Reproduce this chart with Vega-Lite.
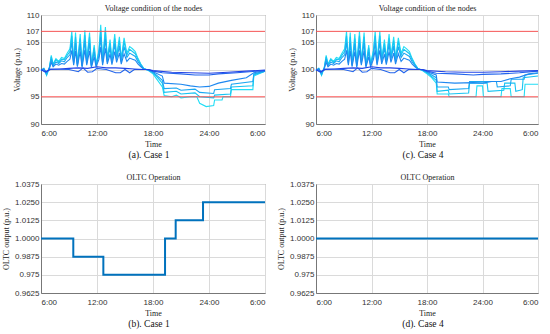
{
"$schema": "https://vega.github.io/schema/vega-lite/v6.json",
"padding": {"left": 2, "top": 3, "right": 5, "bottom": 5},
"config": {
 "view": {"stroke": "#777777", "strokeWidth": 1},
 "axis": {"labelFont": "Liberation Sans", "labelFontSize": 8, "labelColor": "#333333", "titleFont": "Liberation Serif", "titleFontSize": 8, "titleFontWeight": "normal", "titleColor": "#222222", "gridColor": "#dadada", "domainColor": "#777777", "ticks": false, "labelOverlap": false, "labelBound": false},
 "title": {"font": "Liberation Serif", "fontSize": 9.5, "fontWeight": "normal", "color": "#111111"}
},
"datasets": {
 "volt": [
{"c":1,"n":"a","t":6,"v":99.8},{"c":1,"n":"a","t":6.3,"v":100.2},{"c":1,"n":"a","t":6.6,"v":98.9},{"c":1,"n":"a","t":6.9,"v":100.4},{"c":1,"n":"a","t":7.1,"v":102.6},{"c":1,"n":"a","t":7.3,"v":101.0},{"c":1,"n":"a","t":7.6,"v":102.0},{"c":1,"n":"a","t":7.9,"v":101.5},{"c":1,"n":"a","t":8.2,"v":102.2},{"c":1,"n":"a","t":8.5,"v":102.0},{"c":1,"n":"a","t":8.8,"v":103.0},{"c":1,"n":"a","t":9.1,"v":103.8},{"c":1,"n":"a","t":9.3,"v":107.0},{"c":1,"n":"a","t":9.5,"v":101.5},{"c":1,"n":"a","t":9.7,"v":106.8},{"c":1,"n":"a","t":9.9,"v":101.0},{"c":1,"n":"a","t":10.2,"v":106.5},{"c":1,"n":"a","t":10.4,"v":100.8},{"c":1,"n":"a","t":10.7,"v":107.2},{"c":1,"n":"a","t":10.9,"v":101.5},{"c":1,"n":"a","t":11.2,"v":106.8},{"c":1,"n":"a","t":11.4,"v":100.8},{"c":1,"n":"a","t":11.7,"v":104.5},{"c":1,"n":"a","t":11.9,"v":101.0},{"c":1,"n":"a","t":12.2,"v":103.5},{"c":1,"n":"a","t":12.4,"v":108.2},{"c":1,"n":"a","t":12.6,"v":101.5},{"c":1,"n":"a","t":12.9,"v":107.8},{"c":1,"n":"a","t":13.1,"v":102.0},{"c":1,"n":"a","t":13.4,"v":105.5},{"c":1,"n":"a","t":13.6,"v":101.8},{"c":1,"n":"a","t":13.9,"v":106.5},{"c":1,"n":"a","t":14.1,"v":102.5},{"c":1,"n":"a","t":14.4,"v":106.0},{"c":1,"n":"a","t":14.6,"v":102.0},{"c":1,"n":"a","t":14.9,"v":105.8},{"c":1,"n":"a","t":15.2,"v":103.0},{"c":1,"n":"a","t":15.5,"v":104.2},{"c":1,"n":"a","t":15.8,"v":103.8},{"c":1,"n":"a","t":16.1,"v":103.3},{"c":1,"n":"a","t":16.4,"v":102.0},{"c":1,"n":"a","t":16.7,"v":101.0},{"c":1,"n":"a","t":17.0,"v":100.2},
{"c":1,"n":"a","t":17.5,"v":99.8},{"c":1,"n":"a","t":18,"v":99.2},{"c":1,"n":"a","t":18.5,"v":98.0},{"c":1,"n":"a","t":19,"v":96.8},{"c":1,"n":"a","t":19.2,"v":95.2},{"c":1,"n":"a","t":20,"v":95.0},{"c":1,"n":"a","t":20.5,"v":95.3},{"c":1,"n":"a","t":21,"v":94.8},{"c":1,"n":"a","t":22,"v":95.0},{"c":1,"n":"a","t":22.7,"v":95.0},{"c":1,"n":"a","t":23,"v":93.8},{"c":1,"n":"a","t":23.7,"v":93.2},{"c":1,"n":"a","t":24.5,"v":93.4},{"c":1,"n":"a","t":24.6,"v":94.4},{"c":1,"n":"a","t":25.4,"v":94.4},{"c":1,"n":"a","t":25.5,"v":95.0},{"c":1,"n":"a","t":26.3,"v":95.0},{"c":1,"n":"a","t":26.4,"v":96.3},{"c":1,"n":"a","t":28.7,"v":96.3},{"c":1,"n":"a","t":28.8,"v":98.8},{"c":1,"n":"a","t":30,"v":99.7},

{"c":1,"n":"b","t":6,"v":99.8},{"c":1,"n":"b","t":6.3,"v":100.2},{"c":1,"n":"b","t":6.6,"v":99.0},{"c":1,"n":"b","t":6.9,"v":100.4},{"c":1,"n":"b","t":7.1,"v":102.3},{"c":1,"n":"b","t":7.3,"v":100.9},{"c":1,"n":"b","t":7.6,"v":101.8},{"c":1,"n":"b","t":7.9,"v":101.3},{"c":1,"n":"b","t":8.2,"v":101.9},{"c":1,"n":"b","t":8.5,"v":101.8},{"c":1,"n":"b","t":8.8,"v":102.6},{"c":1,"n":"b","t":9.1,"v":103.3},{"c":1,"n":"b","t":9.3,"v":106.2},{"c":1,"n":"b","t":9.5,"v":101.3},{"c":1,"n":"b","t":9.7,"v":106.0},{"c":1,"n":"b","t":9.9,"v":100.9},{"c":1,"n":"b","t":10.2,"v":105.7},{"c":1,"n":"b","t":10.4,"v":100.7},{"c":1,"n":"b","t":10.7,"v":106.3},{"c":1,"n":"b","t":10.9,"v":101.3},{"c":1,"n":"b","t":11.2,"v":106.0},{"c":1,"n":"b","t":11.4,"v":100.7},{"c":1,"n":"b","t":11.7,"v":104.0},{"c":1,"n":"b","t":11.9,"v":100.9},{"c":1,"n":"b","t":12.2,"v":103.1},{"c":1,"n":"b","t":12.4,"v":107.2},{"c":1,"n":"b","t":12.6,"v":101.3},{"c":1,"n":"b","t":12.9,"v":106.9},{"c":1,"n":"b","t":13.1,"v":101.8},{"c":1,"n":"b","t":13.4,"v":104.8},{"c":1,"n":"b","t":13.6,"v":101.6},{"c":1,"n":"b","t":13.9,"v":105.7},{"c":1,"n":"b","t":14.1,"v":102.2},{"c":1,"n":"b","t":14.4,"v":105.3},{"c":1,"n":"b","t":14.6,"v":101.8},{"c":1,"n":"b","t":14.9,"v":105.1},{"c":1,"n":"b","t":15.2,"v":102.6},{"c":1,"n":"b","t":15.5,"v":103.7},{"c":1,"n":"b","t":15.8,"v":103.3},{"c":1,"n":"b","t":16.1,"v":102.9},{"c":1,"n":"b","t":16.4,"v":101.8},{"c":1,"n":"b","t":16.7,"v":100.9},{"c":1,"n":"b","t":17.0,"v":100.2},
{"c":1,"n":"b","t":17.5,"v":99.9},{"c":1,"n":"b","t":18,"v":99.4},{"c":1,"n":"b","t":18.5,"v":98.5},{"c":1,"n":"b","t":19,"v":97.5},{"c":1,"n":"b","t":19.2,"v":95.8},{"c":1,"n":"b","t":20.5,"v":96.0},{"c":1,"n":"b","t":21,"v":95.5},{"c":1,"n":"b","t":22.5,"v":95.7},{"c":1,"n":"b","t":23,"v":95.0},{"c":1,"n":"b","t":24.5,"v":94.8},{"c":1,"n":"b","t":24.6,"v":95.3},{"c":1,"n":"b","t":26.3,"v":95.5},{"c":1,"n":"b","t":26.4,"v":96.8},{"c":1,"n":"b","t":28.7,"v":97.0},{"c":1,"n":"b","t":28.8,"v":99.0},{"c":1,"n":"b","t":30,"v":99.7},

{"c":1,"n":"c","t":6,"v":99.9},{"c":1,"n":"c","t":6.3,"v":100.1},{"c":1,"n":"c","t":6.6,"v":99.2},{"c":1,"n":"c","t":6.9,"v":100.3},{"c":1,"n":"c","t":7.1,"v":101.9},{"c":1,"n":"c","t":7.3,"v":100.7},{"c":1,"n":"c","t":7.6,"v":101.4},{"c":1,"n":"c","t":7.9,"v":101.1},{"c":1,"n":"c","t":8.2,"v":101.6},{"c":1,"n":"c","t":8.5,"v":101.4},{"c":1,"n":"c","t":8.8,"v":102.2},{"c":1,"n":"c","t":9.1,"v":102.7},{"c":1,"n":"c","t":9.3,"v":105.0},{"c":1,"n":"c","t":9.5,"v":101.1},{"c":1,"n":"c","t":9.7,"v":104.9},{"c":1,"n":"c","t":9.9,"v":100.7},{"c":1,"n":"c","t":10.2,"v":104.7},{"c":1,"n":"c","t":10.4,"v":100.6},{"c":1,"n":"c","t":10.7,"v":105.2},{"c":1,"n":"c","t":10.9,"v":101.1},{"c":1,"n":"c","t":11.2,"v":104.9},{"c":1,"n":"c","t":11.4,"v":100.6},{"c":1,"n":"c","t":11.7,"v":103.2},{"c":1,"n":"c","t":11.9,"v":100.7},{"c":1,"n":"c","t":12.2,"v":102.5},{"c":1,"n":"c","t":12.4,"v":105.9},{"c":1,"n":"c","t":12.6,"v":101.1},{"c":1,"n":"c","t":12.9,"v":105.6},{"c":1,"n":"c","t":13.1,"v":101.4},{"c":1,"n":"c","t":13.4,"v":104.0},{"c":1,"n":"c","t":13.6,"v":101.3},{"c":1,"n":"c","t":13.9,"v":104.7},{"c":1,"n":"c","t":14.1,"v":101.8},{"c":1,"n":"c","t":14.4,"v":104.3},{"c":1,"n":"c","t":14.6,"v":101.4},{"c":1,"n":"c","t":14.9,"v":104.2},{"c":1,"n":"c","t":15.2,"v":102.2},{"c":1,"n":"c","t":15.5,"v":103.0},{"c":1,"n":"c","t":15.8,"v":102.7},{"c":1,"n":"c","t":16.1,"v":102.4},{"c":1,"n":"c","t":16.4,"v":101.4},{"c":1,"n":"c","t":16.7,"v":100.7},{"c":1,"n":"c","t":17.0,"v":100.1},
{"c":1,"n":"c","t":17.5,"v":99.9},{"c":1,"n":"c","t":18,"v":99.5},{"c":1,"n":"c","t":18.5,"v":98.8},{"c":1,"n":"c","t":19,"v":98.0},{"c":1,"n":"c","t":19.2,"v":96.5},{"c":1,"n":"c","t":20.5,"v":96.6},{"c":1,"n":"c","t":21,"v":96.2},{"c":1,"n":"c","t":22.5,"v":96.4},{"c":1,"n":"c","t":23,"v":95.8},{"c":1,"n":"c","t":24.5,"v":95.6},{"c":1,"n":"c","t":24.6,"v":96.3},{"c":1,"n":"c","t":26.3,"v":96.5},{"c":1,"n":"c","t":26.4,"v":97.3},{"c":1,"n":"c","t":28.7,"v":97.8},{"c":1,"n":"c","t":28.8,"v":99.2},{"c":1,"n":"c","t":30,"v":99.7},

{"c":1,"n":"d","t":6,"v":99.9},{"c":1,"n":"d","t":6.3,"v":100.1},{"c":1,"n":"d","t":6.6,"v":99.5},{"c":1,"n":"d","t":6.9,"v":100.2},{"c":1,"n":"d","t":7.1,"v":101.3},{"c":1,"n":"d","t":7.3,"v":100.5},{"c":1,"n":"d","t":7.6,"v":101.0},{"c":1,"n":"d","t":7.9,"v":100.8},{"c":1,"n":"d","t":8.2,"v":101.1},{"c":1,"n":"d","t":8.5,"v":101.0},{"c":1,"n":"d","t":8.8,"v":101.5},{"c":1,"n":"d","t":9.1,"v":101.9},{"c":1,"n":"d","t":9.3,"v":103.5},{"c":1,"n":"d","t":9.5,"v":100.8},{"c":1,"n":"d","t":9.7,"v":103.4},{"c":1,"n":"d","t":9.9,"v":100.5},{"c":1,"n":"d","t":10.2,"v":103.3},{"c":1,"n":"d","t":10.4,"v":100.4},{"c":1,"n":"d","t":10.7,"v":103.6},{"c":1,"n":"d","t":10.9,"v":100.8},{"c":1,"n":"d","t":11.2,"v":103.4},{"c":1,"n":"d","t":11.4,"v":100.4},{"c":1,"n":"d","t":11.7,"v":102.3},{"c":1,"n":"d","t":11.9,"v":100.5},{"c":1,"n":"d","t":12.2,"v":101.8},{"c":1,"n":"d","t":12.4,"v":104.1},{"c":1,"n":"d","t":12.6,"v":100.8},{"c":1,"n":"d","t":12.9,"v":103.9},{"c":1,"n":"d","t":13.1,"v":101.0},{"c":1,"n":"d","t":13.4,"v":102.8},{"c":1,"n":"d","t":13.6,"v":100.9},{"c":1,"n":"d","t":13.9,"v":103.3},{"c":1,"n":"d","t":14.1,"v":101.3},{"c":1,"n":"d","t":14.4,"v":103.0},{"c":1,"n":"d","t":14.6,"v":101.0},{"c":1,"n":"d","t":14.9,"v":102.9},{"c":1,"n":"d","t":15.2,"v":101.5},{"c":1,"n":"d","t":15.5,"v":102.1},{"c":1,"n":"d","t":15.8,"v":101.9},{"c":1,"n":"d","t":16.1,"v":101.7},{"c":1,"n":"d","t":16.4,"v":101.0},{"c":1,"n":"d","t":16.7,"v":100.5},{"c":1,"n":"d","t":17.0,"v":100.1},
{"c":1,"n":"d","t":17.5,"v":99.9},{"c":1,"n":"d","t":18,"v":99.6},{"c":1,"n":"d","t":19,"v":98.8},{"c":1,"n":"d","t":19.2,"v":97.5},{"c":1,"n":"d","t":21,"v":97.3},{"c":1,"n":"d","t":22,"v":97.0},{"c":1,"n":"d","t":23,"v":96.8},{"c":1,"n":"d","t":24,"v":96.9},{"c":1,"n":"d","t":25,"v":97.5},{"c":1,"n":"d","t":26.4,"v":98.0},{"c":1,"n":"d","t":28,"v":98.5},{"c":1,"n":"d","t":28.8,"v":99.4},{"c":1,"n":"d","t":30,"v":99.8},

{"c":1,"n":"e","t":6,"v":100.0},{"c":1,"n":"e","t":6.5,"v":99.5},{"c":1,"n":"e","t":7,"v":100.1},{"c":1,"n":"e","t":9,"v":100.0},{"c":1,"n":"e","t":10,"v":99.6},{"c":1,"n":"e","t":10.5,"v":100.3},{"c":1,"n":"e","t":11,"v":99.5},{"c":1,"n":"e","t":11.5,"v":99.6},{"c":1,"n":"e","t":12,"v":100.2},{"c":1,"n":"e","t":13,"v":100.0},{"c":1,"n":"e","t":14,"v":99.4},{"c":1,"n":"e","t":14.5,"v":99.4},{"c":1,"n":"e","t":15,"v":100.0},{"c":1,"n":"e","t":15.5,"v":99.4},{"c":1,"n":"e","t":16,"v":100.0},{"c":1,"n":"e","t":17,"v":100.0},{"c":1,"n":"e","t":17.5,"v":100.0},{"c":1,"n":"e","t":18,"v":99.7},{"c":1,"n":"e","t":19,"v":99.4},{"c":1,"n":"e","t":21,"v":99.2},{"c":1,"n":"e","t":22.5,"v":99.0},{"c":1,"n":"e","t":24,"v":99.0},{"c":1,"n":"e","t":25,"v":99.2},{"c":1,"n":"e","t":27,"v":99.4},{"c":1,"n":"e","t":30,"v":99.8},

{"c":1,"n":"f","t":6,"v":99.9},{"c":1,"n":"f","t":6.5,"v":99.6},{"c":1,"n":"f","t":7,"v":100.0},{"c":1,"n":"f","t":8,"v":100.1},{"c":1,"n":"f","t":9,"v":100.2},{"c":1,"n":"f","t":10,"v":100.3},{"c":1,"n":"f","t":11,"v":100.2},{"c":1,"n":"f","t":12,"v":100.5},{"c":1,"n":"f","t":13,"v":100.3},{"c":1,"n":"f","t":14,"v":100.3},{"c":1,"n":"f","t":15,"v":100.2},{"c":1,"n":"f","t":16,"v":100.1},{"c":1,"n":"f","t":17,"v":100.0},{"c":1,"n":"f","t":17.5,"v":100.0},{"c":1,"n":"f","t":18,"v":99.8},{"c":1,"n":"f","t":20,"v":99.5},{"c":1,"n":"f","t":22,"v":99.4},{"c":1,"n":"f","t":24,"v":99.3},{"c":1,"n":"f","t":26,"v":99.5},{"c":1,"n":"f","t":28,"v":99.7},{"c":1,"n":"f","t":30,"v":99.9},

{"c":4,"n":"a","t":6,"v":99.8},{"c":4,"n":"a","t":6.3,"v":100.2},{"c":4,"n":"a","t":6.6,"v":98.9},{"c":4,"n":"a","t":6.9,"v":100.4},{"c":4,"n":"a","t":7.1,"v":102.6},{"c":4,"n":"a","t":7.3,"v":101.0},{"c":4,"n":"a","t":7.6,"v":102.0},{"c":4,"n":"a","t":7.9,"v":101.5},{"c":4,"n":"a","t":8.2,"v":102.2},{"c":4,"n":"a","t":8.5,"v":102.0},{"c":4,"n":"a","t":8.8,"v":103.0},{"c":4,"n":"a","t":9.1,"v":103.8},{"c":4,"n":"a","t":9.3,"v":107.0},{"c":4,"n":"a","t":9.5,"v":101.5},{"c":4,"n":"a","t":9.7,"v":106.8},{"c":4,"n":"a","t":9.9,"v":101.0},{"c":4,"n":"a","t":10.2,"v":106.5},{"c":4,"n":"a","t":10.4,"v":100.8},{"c":4,"n":"a","t":10.7,"v":107.0},{"c":4,"n":"a","t":10.9,"v":101.5},{"c":4,"n":"a","t":11.2,"v":106.8},{"c":4,"n":"a","t":11.4,"v":100.8},{"c":4,"n":"a","t":11.7,"v":104.5},{"c":4,"n":"a","t":11.9,"v":101.0},{"c":4,"n":"a","t":12.2,"v":103.5},{"c":4,"n":"a","t":12.4,"v":107.0},{"c":4,"n":"a","t":12.6,"v":101.5},{"c":4,"n":"a","t":12.9,"v":107.0},{"c":4,"n":"a","t":13.1,"v":102.0},{"c":4,"n":"a","t":13.4,"v":105.5},{"c":4,"n":"a","t":13.6,"v":101.8},{"c":4,"n":"a","t":13.9,"v":106.5},{"c":4,"n":"a","t":14.1,"v":102.5},{"c":4,"n":"a","t":14.4,"v":106.0},{"c":4,"n":"a","t":14.6,"v":102.0},{"c":4,"n":"a","t":14.9,"v":105.8},{"c":4,"n":"a","t":15.2,"v":103.0},{"c":4,"n":"a","t":15.5,"v":104.2},{"c":4,"n":"a","t":15.8,"v":103.8},{"c":4,"n":"a","t":16.1,"v":103.3},{"c":4,"n":"a","t":16.4,"v":102.0},{"c":4,"n":"a","t":16.7,"v":101.0},{"c":4,"n":"a","t":17.0,"v":100.2},
{"c":4,"n":"a","t":17.5,"v":99.8},{"c":4,"n":"a","t":18,"v":99.2},{"c":4,"n":"a","t":18.5,"v":98.5},{"c":4,"n":"a","t":19,"v":97.5},{"c":4,"n":"a","t":19.1,"v":95.5},{"c":4,"n":"a","t":20.3,"v":95.5},{"c":4,"n":"a","t":20.4,"v":95.0},{"c":4,"n":"a","t":23.3,"v":95.0},{"c":4,"n":"a","t":23.4,"v":97.0},{"c":4,"n":"a","t":24.0,"v":97.0},{"c":4,"n":"a","t":24.1,"v":95.0},{"c":4,"n":"a","t":26.0,"v":95.0},{"c":4,"n":"a","t":26.1,"v":96.5},{"c":4,"n":"a","t":27.0,"v":96.5},{"c":4,"n":"a","t":27.1,"v":95.0},{"c":4,"n":"a","t":28.5,"v":95.0},{"c":4,"n":"a","t":28.6,"v":97.3},{"c":4,"n":"a","t":30,"v":97.3},

{"c":4,"n":"b","t":6,"v":99.8},{"c":4,"n":"b","t":6.3,"v":100.2},{"c":4,"n":"b","t":6.6,"v":99.0},{"c":4,"n":"b","t":6.9,"v":100.4},{"c":4,"n":"b","t":7.1,"v":102.3},{"c":4,"n":"b","t":7.3,"v":100.9},{"c":4,"n":"b","t":7.6,"v":101.8},{"c":4,"n":"b","t":7.9,"v":101.3},{"c":4,"n":"b","t":8.2,"v":101.9},{"c":4,"n":"b","t":8.5,"v":101.8},{"c":4,"n":"b","t":8.8,"v":102.6},{"c":4,"n":"b","t":9.1,"v":103.3},{"c":4,"n":"b","t":9.3,"v":106.2},{"c":4,"n":"b","t":9.5,"v":101.3},{"c":4,"n":"b","t":9.7,"v":106.0},{"c":4,"n":"b","t":9.9,"v":100.9},{"c":4,"n":"b","t":10.2,"v":105.7},{"c":4,"n":"b","t":10.4,"v":100.7},{"c":4,"n":"b","t":10.7,"v":106.2},{"c":4,"n":"b","t":10.9,"v":101.3},{"c":4,"n":"b","t":11.2,"v":106.0},{"c":4,"n":"b","t":11.4,"v":100.7},{"c":4,"n":"b","t":11.7,"v":104.0},{"c":4,"n":"b","t":11.9,"v":100.9},{"c":4,"n":"b","t":12.2,"v":103.1},{"c":4,"n":"b","t":12.4,"v":106.2},{"c":4,"n":"b","t":12.6,"v":101.3},{"c":4,"n":"b","t":12.9,"v":106.2},{"c":4,"n":"b","t":13.1,"v":101.8},{"c":4,"n":"b","t":13.4,"v":104.8},{"c":4,"n":"b","t":13.6,"v":101.6},{"c":4,"n":"b","t":13.9,"v":105.7},{"c":4,"n":"b","t":14.1,"v":102.2},{"c":4,"n":"b","t":14.4,"v":105.3},{"c":4,"n":"b","t":14.6,"v":101.8},{"c":4,"n":"b","t":14.9,"v":105.1},{"c":4,"n":"b","t":15.2,"v":102.6},{"c":4,"n":"b","t":15.5,"v":103.7},{"c":4,"n":"b","t":15.8,"v":103.3},{"c":4,"n":"b","t":16.1,"v":102.9},{"c":4,"n":"b","t":16.4,"v":101.8},{"c":4,"n":"b","t":16.7,"v":100.9},{"c":4,"n":"b","t":17.0,"v":100.2},
{"c":4,"n":"b","t":17.5,"v":99.9},{"c":4,"n":"b","t":18,"v":99.4},{"c":4,"n":"b","t":19,"v":98.0},{"c":4,"n":"b","t":19.1,"v":96.0},{"c":4,"n":"b","t":20.3,"v":96.2},{"c":4,"n":"b","t":20.4,"v":95.5},{"c":4,"n":"b","t":22.5,"v":95.7},{"c":4,"n":"b","t":22.6,"v":97.5},{"c":4,"n":"b","t":24.5,"v":97.5},{"c":4,"n":"b","t":24.6,"v":96.0},{"c":4,"n":"b","t":26.3,"v":96.2},{"c":4,"n":"b","t":26.4,"v":97.5},{"c":4,"n":"b","t":27.5,"v":97.5},{"c":4,"n":"b","t":27.6,"v":96.0},{"c":4,"n":"b","t":28.3,"v":96.3},{"c":4,"n":"b","t":28.4,"v":98.5},{"c":4,"n":"b","t":30,"v":98.8},

{"c":4,"n":"c","t":6,"v":99.9},{"c":4,"n":"c","t":6.3,"v":100.1},{"c":4,"n":"c","t":6.6,"v":99.2},{"c":4,"n":"c","t":6.9,"v":100.3},{"c":4,"n":"c","t":7.1,"v":101.9},{"c":4,"n":"c","t":7.3,"v":100.7},{"c":4,"n":"c","t":7.6,"v":101.4},{"c":4,"n":"c","t":7.9,"v":101.1},{"c":4,"n":"c","t":8.2,"v":101.6},{"c":4,"n":"c","t":8.5,"v":101.4},{"c":4,"n":"c","t":8.8,"v":102.2},{"c":4,"n":"c","t":9.1,"v":102.7},{"c":4,"n":"c","t":9.3,"v":105.0},{"c":4,"n":"c","t":9.5,"v":101.1},{"c":4,"n":"c","t":9.7,"v":104.9},{"c":4,"n":"c","t":9.9,"v":100.7},{"c":4,"n":"c","t":10.2,"v":104.7},{"c":4,"n":"c","t":10.4,"v":100.6},{"c":4,"n":"c","t":10.7,"v":105.0},{"c":4,"n":"c","t":10.9,"v":101.1},{"c":4,"n":"c","t":11.2,"v":104.9},{"c":4,"n":"c","t":11.4,"v":100.6},{"c":4,"n":"c","t":11.7,"v":103.2},{"c":4,"n":"c","t":11.9,"v":100.7},{"c":4,"n":"c","t":12.2,"v":102.5},{"c":4,"n":"c","t":12.4,"v":105.0},{"c":4,"n":"c","t":12.6,"v":101.1},{"c":4,"n":"c","t":12.9,"v":105.0},{"c":4,"n":"c","t":13.1,"v":101.4},{"c":4,"n":"c","t":13.4,"v":104.0},{"c":4,"n":"c","t":13.6,"v":101.3},{"c":4,"n":"c","t":13.9,"v":104.7},{"c":4,"n":"c","t":14.1,"v":101.8},{"c":4,"n":"c","t":14.4,"v":104.3},{"c":4,"n":"c","t":14.6,"v":101.4},{"c":4,"n":"c","t":14.9,"v":104.2},{"c":4,"n":"c","t":15.2,"v":102.2},{"c":4,"n":"c","t":15.5,"v":103.0},{"c":4,"n":"c","t":15.8,"v":102.7},{"c":4,"n":"c","t":16.1,"v":102.4},{"c":4,"n":"c","t":16.4,"v":101.4},{"c":4,"n":"c","t":16.7,"v":100.7},{"c":4,"n":"c","t":17.0,"v":100.1},
{"c":4,"n":"c","t":17.5,"v":99.9},{"c":4,"n":"c","t":18,"v":99.5},{"c":4,"n":"c","t":19,"v":98.5},{"c":4,"n":"c","t":19.1,"v":96.8},{"c":4,"n":"c","t":20.3,"v":96.8},{"c":4,"n":"c","t":20.4,"v":96.3},{"c":4,"n":"c","t":22.5,"v":96.5},{"c":4,"n":"c","t":22.6,"v":97.8},{"c":4,"n":"c","t":25.5,"v":97.8},{"c":4,"n":"c","t":25.6,"v":96.8},{"c":4,"n":"c","t":27,"v":97.0},{"c":4,"n":"c","t":27.1,"v":98.2},{"c":4,"n":"c","t":28.5,"v":98.2},{"c":4,"n":"c","t":28.6,"v":99.0},{"c":4,"n":"c","t":30,"v":99.3},

{"c":4,"n":"d","t":6,"v":99.9},{"c":4,"n":"d","t":6.3,"v":100.1},{"c":4,"n":"d","t":6.6,"v":99.5},{"c":4,"n":"d","t":6.9,"v":100.2},{"c":4,"n":"d","t":7.1,"v":101.3},{"c":4,"n":"d","t":7.3,"v":100.5},{"c":4,"n":"d","t":7.6,"v":101.0},{"c":4,"n":"d","t":7.9,"v":100.8},{"c":4,"n":"d","t":8.2,"v":101.1},{"c":4,"n":"d","t":8.5,"v":101.0},{"c":4,"n":"d","t":8.8,"v":101.5},{"c":4,"n":"d","t":9.1,"v":101.9},{"c":4,"n":"d","t":9.3,"v":103.5},{"c":4,"n":"d","t":9.5,"v":100.8},{"c":4,"n":"d","t":9.7,"v":103.4},{"c":4,"n":"d","t":9.9,"v":100.5},{"c":4,"n":"d","t":10.2,"v":103.3},{"c":4,"n":"d","t":10.4,"v":100.4},{"c":4,"n":"d","t":10.7,"v":103.5},{"c":4,"n":"d","t":10.9,"v":100.8},{"c":4,"n":"d","t":11.2,"v":103.4},{"c":4,"n":"d","t":11.4,"v":100.4},{"c":4,"n":"d","t":11.7,"v":102.3},{"c":4,"n":"d","t":11.9,"v":100.5},{"c":4,"n":"d","t":12.2,"v":101.8},{"c":4,"n":"d","t":12.4,"v":103.5},{"c":4,"n":"d","t":12.6,"v":100.8},{"c":4,"n":"d","t":12.9,"v":103.5},{"c":4,"n":"d","t":13.1,"v":101.0},{"c":4,"n":"d","t":13.4,"v":102.8},{"c":4,"n":"d","t":13.6,"v":100.9},{"c":4,"n":"d","t":13.9,"v":103.3},{"c":4,"n":"d","t":14.1,"v":101.3},{"c":4,"n":"d","t":14.4,"v":103.0},{"c":4,"n":"d","t":14.6,"v":101.0},{"c":4,"n":"d","t":14.9,"v":102.9},{"c":4,"n":"d","t":15.2,"v":101.5},{"c":4,"n":"d","t":15.5,"v":102.1},{"c":4,"n":"d","t":15.8,"v":101.9},{"c":4,"n":"d","t":16.1,"v":101.7},{"c":4,"n":"d","t":16.4,"v":101.0},{"c":4,"n":"d","t":16.7,"v":100.5},{"c":4,"n":"d","t":17.0,"v":100.1},
{"c":4,"n":"d","t":17.5,"v":99.9},{"c":4,"n":"d","t":18,"v":99.6},{"c":4,"n":"d","t":19,"v":99.0},{"c":4,"n":"d","t":19.1,"v":97.7},{"c":4,"n":"d","t":21,"v":97.5},{"c":4,"n":"d","t":23,"v":97.6},{"c":4,"n":"d","t":24,"v":97.5},{"c":4,"n":"d","t":25,"v":97.8},{"c":4,"n":"d","t":26,"v":97.8},{"c":4,"n":"d","t":27,"v":98.3},{"c":4,"n":"d","t":28,"v":98.6},{"c":4,"n":"d","t":29,"v":99.2},{"c":4,"n":"d","t":30,"v":99.4},

{"c":4,"n":"e","t":6,"v":100.0},{"c":4,"n":"e","t":6.5,"v":99.5},{"c":4,"n":"e","t":7,"v":100.1},{"c":4,"n":"e","t":9,"v":100.0},{"c":4,"n":"e","t":10,"v":99.6},{"c":4,"n":"e","t":10.5,"v":100.3},{"c":4,"n":"e","t":11,"v":99.5},{"c":4,"n":"e","t":11.5,"v":99.6},{"c":4,"n":"e","t":12,"v":100.2},{"c":4,"n":"e","t":13,"v":100.0},{"c":4,"n":"e","t":14,"v":99.4},{"c":4,"n":"e","t":14.5,"v":99.4},{"c":4,"n":"e","t":15,"v":100.0},{"c":4,"n":"e","t":15.5,"v":99.4},{"c":4,"n":"e","t":16,"v":100.0},{"c":4,"n":"e","t":17,"v":100.0},{"c":4,"n":"e","t":17.5,"v":100.0},{"c":4,"n":"e","t":18,"v":99.7},{"c":4,"n":"e","t":19,"v":99.3},{"c":4,"n":"e","t":21,"v":99.2},{"c":4,"n":"e","t":23,"v":99.0},{"c":4,"n":"e","t":24,"v":99.1},{"c":4,"n":"e","t":26,"v":99.2},{"c":4,"n":"e","t":28,"v":99.4},{"c":4,"n":"e","t":30,"v":99.7},

{"c":4,"n":"f","t":6,"v":99.9},{"c":4,"n":"f","t":6.5,"v":99.6},{"c":4,"n":"f","t":7,"v":100.0},{"c":4,"n":"f","t":8,"v":100.1},{"c":4,"n":"f","t":9,"v":100.2},{"c":4,"n":"f","t":10,"v":100.3},{"c":4,"n":"f","t":11,"v":100.2},{"c":4,"n":"f","t":12,"v":100.5},{"c":4,"n":"f","t":13,"v":100.3},{"c":4,"n":"f","t":14,"v":100.3},{"c":4,"n":"f","t":15,"v":100.2},{"c":4,"n":"f","t":16,"v":100.1},{"c":4,"n":"f","t":17,"v":100.0},{"c":4,"n":"f","t":17.5,"v":100.0},{"c":4,"n":"f","t":18,"v":99.8},{"c":4,"n":"f","t":20,"v":99.6},{"c":4,"n":"f","t":22,"v":99.5},{"c":4,"n":"f","t":24,"v":99.5},{"c":4,"n":"f","t":26,"v":99.6},{"c":4,"n":"f","t":28,"v":99.7},{"c":4,"n":"f","t":30,"v":99.8}
 ],
 "oltc": [
{"c":1,"t":6,"v":1.0},{"c":1,"t":9.46,"v":0.9875},{"c":1,"t":12.68,"v":0.975},{"c":1,"t":19.29,"v":1.0},{"c":1,"t":20.43,"v":1.0125},{"c":1,"t":23.36,"v":1.025},{"c":1,"t":30,"v":1.025},
{"c":4,"t":6,"v":1.0},{"c":4,"t":30,"v":1.0}
 ],
 "limits": [{"lim":95},{"lim":107}]
},
"columns": 2,
"spacing": {"row": 60, "column": 51},
"bounds": "flush",
"concat": [
 {
  "width": 224, "height": 109,
  "title": {"text": "(a). Case 1", "orient": "bottom", "frame": "group", "dx": -4, "offset": 2},
  "layer": [
   {"data": {"name": "volt"}, "transform": [{"filter": "datum.c == 1"}],
    "mark": {"type": "line", "strokeWidth": 1.1},
    "encoding": {
     "x": {"field": "t", "type": "quantitative", "scale": {"domain": [6, 30], "nice": false}, "axis": {"values": [6, 12, 18, 24, 30], "labelExpr": "datum.value == 30 ? '6:00' : datum.value + ':00'", "title": "Time", "labelPadding": 5, "titlePadding": 3}},
     "y": {"field": "v", "type": "quantitative", "scale": {"domain": [90, 110], "nice": false}, "axis": {"values": [90, 95, 100, 105, 107, 110], "labelOverlap": false, "title": "Voltage (p.u.)", "labelPadding": 2, "titlePadding": 4}},
     "color": {"field": "n", "type": "nominal", "scale": {"domain": ["a", "b", "c", "d", "e", "f"], "range": ["#22DDF5", "#18C4F2", "#1BA8F2", "#1F88F0", "#2264EC", "#2244E6"]}, "legend": null}
    }},
   {"data": {"name": "limits"},
    "mark": {"type": "rule", "color": "#FF4A4A", "strokeWidth": 1, "opacity": 0.9},
    "encoding": {
     "y": {"field": "lim", "type": "quantitative", "axis": {"values": [90, 95, 100, 105, 107, 110], "labelOverlap": false, "title": "Voltage (p.u.)", "labelPadding": 2, "titlePadding": 4}},
     "x": {"datum": 6, "type": "quantitative", "axis": {"orient": "top", "title": "Voltage condition of the nodes", "labels": false, "domain": false, "grid": false, "titlePadding": 3}},
     "x2": {"datum": 30}
    }}
  ],
  "resolve": {"axis": {"x": "independent"}}
 },
 {
  "width": 222, "height": 109,
  "title": {"text": "(c). Case 4", "orient": "bottom", "frame": "group", "dx": -4, "offset": 2},
  "layer": [
   {"data": {"name": "volt"}, "transform": [{"filter": "datum.c == 4"}],
    "mark": {"type": "line", "strokeWidth": 1.1},
    "encoding": {
     "x": {"field": "t", "type": "quantitative", "scale": {"domain": [6, 30], "nice": false}, "axis": {"values": [6, 12, 18, 24, 30], "labelExpr": "datum.value == 30 ? '6:00' : datum.value + ':00'", "title": "Time", "labelPadding": 5, "titlePadding": 3}},
     "y": {"field": "v", "type": "quantitative", "scale": {"domain": [90, 110], "nice": false}, "axis": {"values": [90, 95, 100, 105, 107, 110], "labelOverlap": false, "title": "Voltage (p.u.)", "labelPadding": 2, "titlePadding": 4}},
     "color": {"field": "n", "type": "nominal", "scale": {"domain": ["a", "b", "c", "d", "e", "f"], "range": ["#22DDF5", "#18C4F2", "#1BA8F2", "#1F88F0", "#2264EC", "#2244E6"]}, "legend": null}
    }},
   {"data": {"name": "limits"},
    "mark": {"type": "rule", "color": "#FF4A4A", "strokeWidth": 1, "opacity": 0.9},
    "encoding": {
     "y": {"field": "lim", "type": "quantitative", "axis": {"values": [90, 95, 100, 105, 107, 110], "labelOverlap": false, "title": "Voltage (p.u.)", "labelPadding": 2, "titlePadding": 4}},
     "x": {"datum": 6, "type": "quantitative", "axis": {"orient": "top", "title": "Voltage condition of the nodes", "labels": false, "domain": false, "grid": false, "titlePadding": 3}},
     "x2": {"datum": 30}
    }}
  ],
  "resolve": {"axis": {"x": "independent"}}
 },
 {
  "width": 224, "height": 109,
  "title": {"text": "(b). Case 1", "orient": "bottom", "frame": "group", "dx": -4, "offset": 2},
  "data": {"name": "oltc"},
  "transform": [{"filter": "datum.c == 1"}],
  "layer": [
   {"mark": {"type": "line", "interpolate": "step-after", "color": "#0072BD", "strokeWidth": 2},
    "encoding": {
     "x": {"field": "t", "type": "quantitative", "scale": {"domain": [6, 30], "nice": false}, "axis": {"values": [6, 12, 18, 24, 30], "labelExpr": "datum.value == 30 ? '6:00' : datum.value + ':00'", "title": "Time", "labelPadding": 5, "titlePadding": 3}},
     "y": {"field": "v", "type": "quantitative", "scale": {"domain": [0.9625, 1.0375], "nice": false, "zero": false}, "axis": {"values": [0.9625, 0.975, 0.9875, 1.0, 1.0125, 1.025, 1.0375], "labelOverlap": false, "labelExpr": "abs(datum.value - 0.975) < 0.000001 ? '0.975' : format(datum.value, '.4f')", "title": "OLTC output (p.u.)", "labelPadding": 2, "titlePadding": 4}}
    }},
   {"mark": {"type": "rule", "opacity": 0},
    "encoding": {
     "x": {"datum": 6, "type": "quantitative", "axis": {"orient": "top", "title": "OLTC Operation", "labels": false, "domain": false, "grid": false, "titlePadding": 3}}
    }}
  ],
  "resolve": {"axis": {"x": "independent"}}
 },
 {
  "width": 222, "height": 109,
  "title": {"text": "(d). Case 4", "orient": "bottom", "frame": "group", "dx": -4, "offset": 2},
  "data": {"name": "oltc"},
  "transform": [{"filter": "datum.c == 4"}],
  "layer": [
   {"mark": {"type": "line", "interpolate": "step-after", "color": "#0072BD", "strokeWidth": 2},
    "encoding": {
     "x": {"field": "t", "type": "quantitative", "scale": {"domain": [6, 30], "nice": false}, "axis": {"values": [6, 12, 18, 24, 30], "labelExpr": "datum.value == 30 ? '6:00' : datum.value + ':00'", "title": "Time", "labelPadding": 5, "titlePadding": 3}},
     "y": {"field": "v", "type": "quantitative", "scale": {"domain": [0.9625, 1.0375], "nice": false, "zero": false}, "axis": {"values": [0.9625, 0.975, 0.9875, 1.0, 1.0125, 1.025, 1.0375], "labelOverlap": false, "labelExpr": "abs(datum.value - 0.975) < 0.000001 ? '0.975' : format(datum.value, '.4f')", "title": "OLTC output (p.u.)", "labelPadding": 2, "titlePadding": 4}}
    }},
   {"mark": {"type": "rule", "opacity": 0},
    "encoding": {
     "x": {"datum": 6, "type": "quantitative", "axis": {"orient": "top", "title": "OLTC Operation", "labels": false, "domain": false, "grid": false, "titlePadding": 3}}
    }}
  ],
  "resolve": {"axis": {"x": "independent"}}
 }
]
}
